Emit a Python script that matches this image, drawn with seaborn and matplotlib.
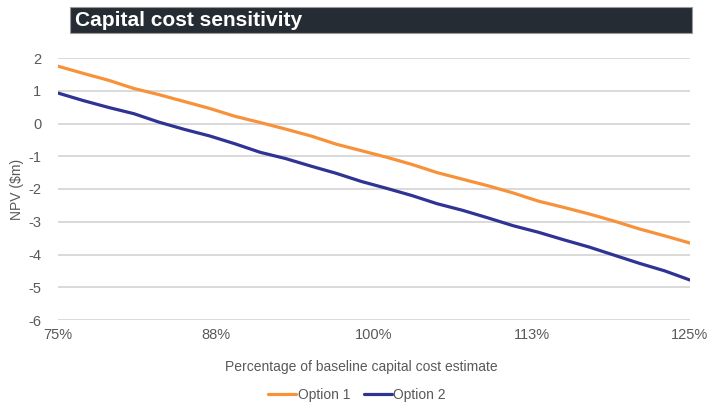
import matplotlib
matplotlib.use("Agg")
import matplotlib.pyplot as plt
from matplotlib.patches import Rectangle
import numpy as np
import pandas as pd
import seaborn as sns

# Capital cost as a percentage of the baseline estimate
capital_pct = [75, 77, 79, 81, 83, 85, 87, 89, 91, 93, 95, 97, 99,
               101, 103, 105, 107, 109, 111, 113, 115, 117, 119, 121, 123, 125]

# NPV ($m) for each option
option_1 = [1.75, 1.53, 1.32, 1.07, 0.88, 0.67, 0.46, 0.22, 0.03, -0.17, -0.38, -0.63, -0.83,
            -1.03, -1.25, -1.50, -1.70, -1.90, -2.12, -2.37, -2.56, -2.76, -2.98, -3.22, -3.43, -3.65]
option_2 = [0.93, 0.70, 0.49, 0.30, 0.04, -0.18, -0.38, -0.62, -0.88, -1.07, -1.30, -1.52, -1.77,
            -1.98, -2.20, -2.45, -2.65, -2.88, -3.12, -3.32, -3.55, -3.77, -4.02, -4.27, -4.50, -4.78]

series_names = ["Option 1", "Option 2"]
series_colors = ["#F7923A", "#2F3393"]

x_ticks = [75, 87.5, 100, 112.5, 125]
x_tick_labels = ["75%", "88%", "100%", "113%", "125%"]
y_ticks = [2, 1, 0, -1, -2, -3, -4, -5, -6]

df = pd.concat([
    pd.DataFrame({"pct": capital_pct, "npv": option_1, "series": series_names[0]}),
    pd.DataFrame({"pct": capital_pct, "npv": option_2, "series": series_names[1]}),
])

sns.set_theme(style="white")
plt.rcParams["font.family"] = ["Liberation Sans", "DejaVu Sans"]

fig = plt.figure(figsize=(7.08, 4.07), dpi=100)
ax = fig.add_axes([58 / 708, 1 - 320 / 407, (690 - 58) / 708, (320 - 58) / 407])

sns.lineplot(data=df, x="pct", y="npv", hue="series", palette=series_colors,
             linewidth=2.3, ax=ax, legend=False)

ax.set_xlim(75, 125)
ax.set_ylim(-6, 2)
ax.set_xticks(x_ticks)
ax.set_xticklabels(x_tick_labels)
ax.set_yticks(y_ticks)
ax.set_yticklabels([str(v) for v in y_ticks])
ax.grid(axis="y", color="#d9d9d9", linewidth=1.4)
ax.grid(axis="x", visible=False)
ax.set_axisbelow(True)
for s in ax.spines.values():
    s.set_visible(False)
ax.tick_params(axis="x", colors="#595959", labelsize=10.5, pad=6, length=0)
ax.tick_params(axis="y", colors="#595959", labelsize=10.5, pad=12, length=0)
ax.set_xlabel("")
ax.set_ylabel("")

# Axis titles
fig.text(17 / 708, 1 - 189 / 407, "NPV ($m)", rotation=90, ha="center", va="center",
         fontsize=10, color="#595959")
fig.text(361 / 708, 1 - 367 / 407, "Percentage of baseline capital cost estimate",
         ha="center", va="center", fontsize=10, color="#595959")

# Legend
handles = [plt.Line2D([], [], color=c, linewidth=2.3) for c in series_colors]
fig.legend(handles, series_names, loc="center", bbox_to_anchor=(357 / 708, 1 - 395 / 407),
           ncol=2, frameon=False, fontsize=10, labelcolor="#595959",
           handlelength=2.0, handletextpad=0.1, columnspacing=1.0)

# Title banner
fig.patches.append(Rectangle((70 / 708, 1 - 33 / 407), (692 - 70) / 708, 26 / 407,
                             transform=fig.transFigure, facecolor="#262c33",
                             edgecolor="#9a9a9a", linewidth=0.8))
fig.text(75 / 708, 1 - 21 / 407, "Capital cost sensitivity", ha="left", va="center",
         fontsize=15, fontweight="bold", color="white")

fig.savefig("out.png", dpi=100, facecolor="white")
